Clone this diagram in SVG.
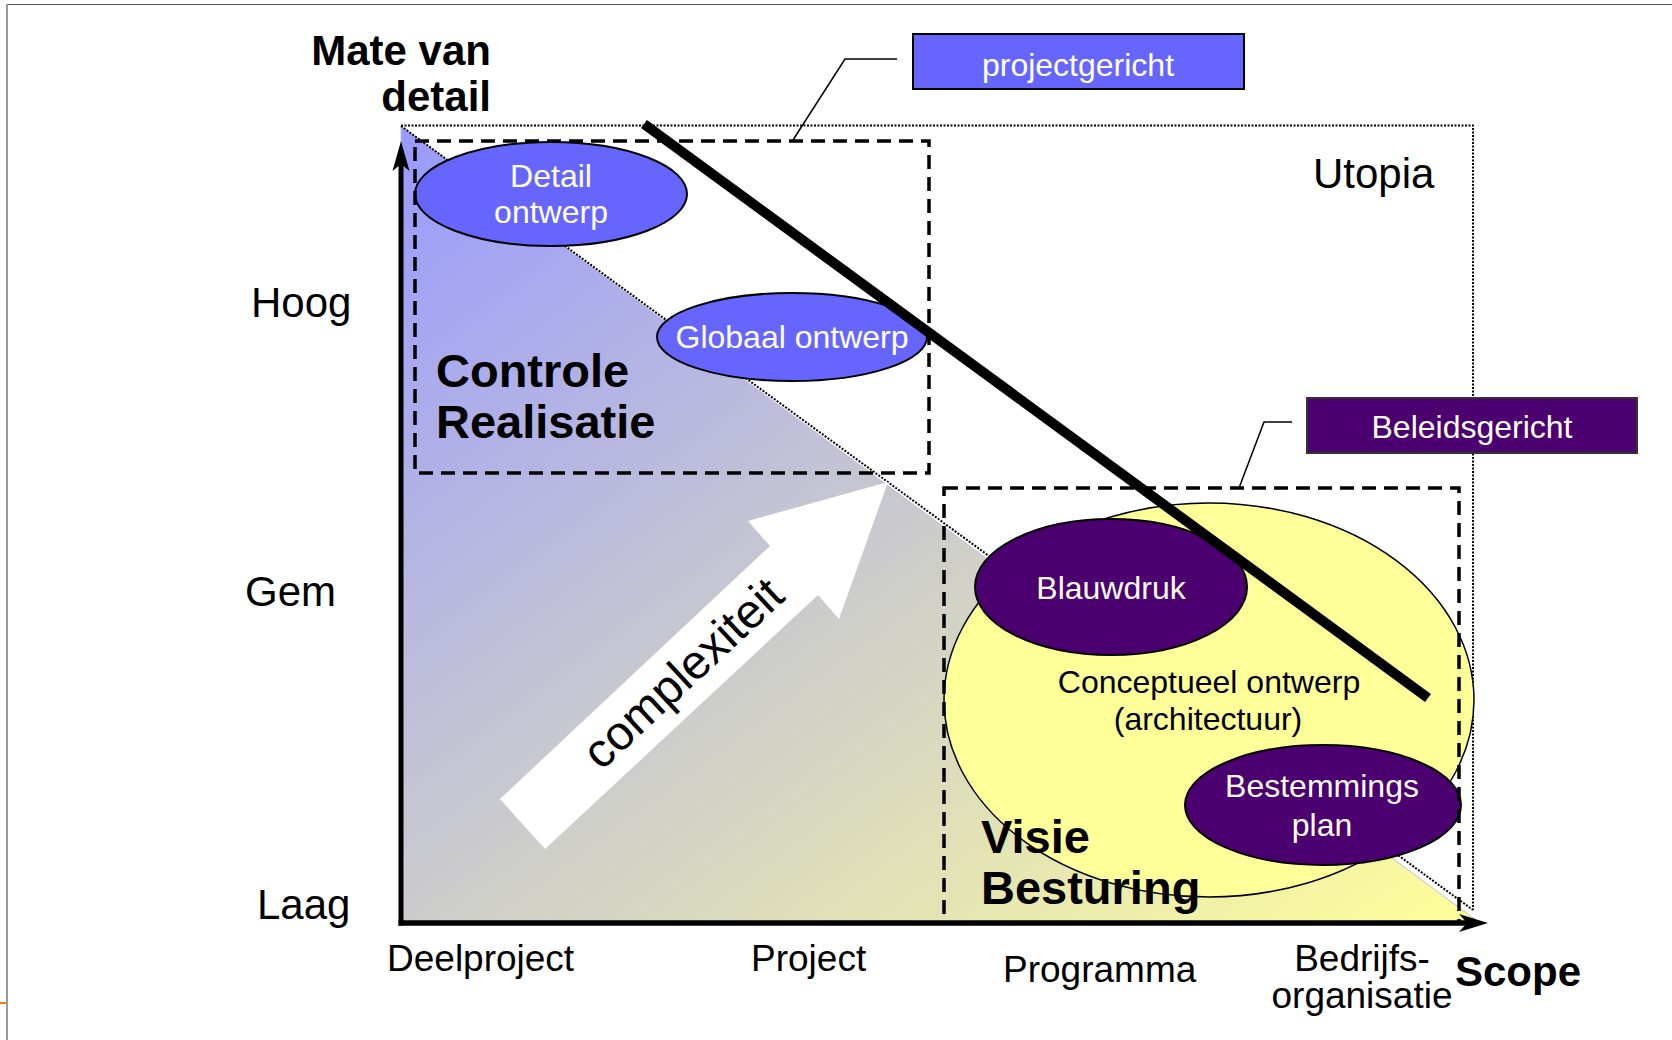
<svg xmlns="http://www.w3.org/2000/svg" width="1672" height="1040" viewBox="0 0 1672 1040">
<defs>
<linearGradient id="grad" x1="0" y1="0" x2="1" y2="1">
<stop offset="0" stop-color="#9999FF"/>
<stop offset="1" stop-color="#FFFF99"/>
</linearGradient>
</defs>
<style>
text{font-family:"Liberation Sans",Arial,sans-serif;}
.w{fill:#fff;font-size:32px;text-anchor:middle;}
.b{fill:#000;font-size:32px;text-anchor:middle;}
.ax{fill:#000;font-size:37px;}
.lv{fill:#000;font-size:42px;}
.big{fill:#000;font-size:47px;font-weight:bold;}
.dot{fill:none;stroke:#000;stroke-width:2;stroke-dasharray:2 1.5;}
.dash{fill:none;stroke:#000;stroke-width:3.5;stroke-dasharray:14 8;}
.lead{fill:none;stroke:#000;stroke-width:1.5;}
.blue{fill:#6666FF;stroke:#000;stroke-width:2;}
.purple{fill:#4C0070;stroke:#000;stroke-width:2;}
</style>
<rect width="1672" height="1040" fill="#fff"/>
<g id="frame">
<line x1="6" y1="4.5" x2="1672" y2="4.5" stroke="#555" stroke-width="1"/>
<line x1="7" y1="4" x2="7" y2="1040" stroke="#999" stroke-width="2"/>
<line x1="0" y1="1003" x2="6" y2="1003" stroke="#F08010" stroke-width="2"/>
</g>
<g id="background">
<polygon points="401,126 1480,923 401,923" fill="url(#grad)" stroke="#C4BCD8" stroke-width="1"/>
<polyline class="dot" points="401,125.5 1473,125.5 1473,910"/>
<line class="dot" x1="401" y1="126" x2="1473" y2="910"/>
</g>
<g id="complexiteit">
<polygon points="500,799 770,546 748,521 888,482 839,619 818,595 545,849" fill="#fff"/>
<text transform="translate(694,685) rotate(-43)" style="font-size:48px;text-anchor:middle;fill:#000">complexiteit</text>
</g>
<g id="conceptueel">
<ellipse cx="1209" cy="700" rx="265" ry="197" fill="#FFFF99" stroke="#000" stroke-width="1.5"/>
<text class="b" x="1209" y="693">Conceptueel ontwerp</text>
<text class="b" x="1208" y="730">(architectuur)</text>
</g>
<g id="detail-ontwerp">
<ellipse class="blue" cx="551" cy="194" rx="136" ry="52"/>
<text class="w" x="551" y="187">Detail</text>
<text class="w" x="551" y="223">ontwerp</text>
</g>
<g id="globaal-ontwerp">
<ellipse class="blue" cx="792" cy="337" rx="135" ry="44"/>
<text class="w" x="792" y="348">Globaal ontwerp</text>
</g>
<g id="blauwdruk">
<ellipse class="purple" cx="1111" cy="587" rx="136" ry="68"/>
<text class="w" x="1111" y="599">Blauwdruk</text>
</g>
<g id="bestemmingsplan">
<ellipse class="purple" cx="1323" cy="805" rx="138" ry="60"/>
<text class="w" x="1322" y="797">Bestemmings</text>
<text class="w" x="1322" y="836">plan</text>
</g>
<g id="controle-realisatie">
<rect class="dash" x="415" y="141" width="514" height="332"/>
<text class="big" x="436" y="387">Controle</text>
<text class="big" x="436" y="438">Realisatie</text>
</g>
<g id="visie-besturing">
<rect class="dash" x="944" y="488" width="515" height="435"/>
<text class="big" x="981" y="853">Visie</text>
<text class="big" x="981" y="904">Besturing</text>
</g>
<g id="projectgericht">
<rect class="blue" x="913" y="34" width="331" height="55"/>
<text class="w" x="1078" y="76">projectgericht</text>
</g>
<g id="beleidsgericht">
<rect x="1307" y="398" width="330" height="55" fill="#4C0070" stroke="#333" stroke-width="2"/>
<text class="w" x="1472" y="438">Beleidsgericht</text>
</g>
<g id="connectors">
<polyline class="lead" points="897,59 845,59 793,140"/>
<polyline class="lead" points="1292,422 1264,422 1239,488"/>
<line x1="644" y1="124" x2="1428" y2="698" stroke="#000" stroke-width="10"/>
<line x1="401" y1="925.5" x2="401" y2="160" stroke="#000" stroke-width="5"/>
<path d="M401,141 L409.5,171 L401,164 L392.5,171 Z" fill="#000"/>
<line x1="398.5" y1="923" x2="1470" y2="923" stroke="#000" stroke-width="5.5"/>
<path d="M1488,923 L1459,914 L1467,923 L1459,932 Z" fill="#000"/>
</g>
<g id="labels">
<text x="491" y="65" style="font-size:42px;font-weight:bold;text-anchor:end">Mate van</text>
<text x="491" y="111" style="font-size:42px;font-weight:bold;text-anchor:end">detail</text>
<text class="lv" x="251" y="317">Hoog</text>
<text class="lv" x="245" y="606">Gem</text>
<text class="lv" x="257" y="919">Laag</text>
<text class="lv" x="1313" y="188">Utopia</text>
<text class="ax" x="387" y="971">Deelproject</text>
<text class="ax" x="751" y="971">Project</text>
<text class="ax" x="1003" y="982">Programma</text>
<text class="ax" x="1362" y="971" text-anchor="middle">Bedrijfs-</text>
<text class="ax" x="1362" y="1008" text-anchor="middle">organisatie</text>
<text x="1455" y="986" style="font-size:42px;font-weight:bold">Scope</text>
</g>
</svg>
